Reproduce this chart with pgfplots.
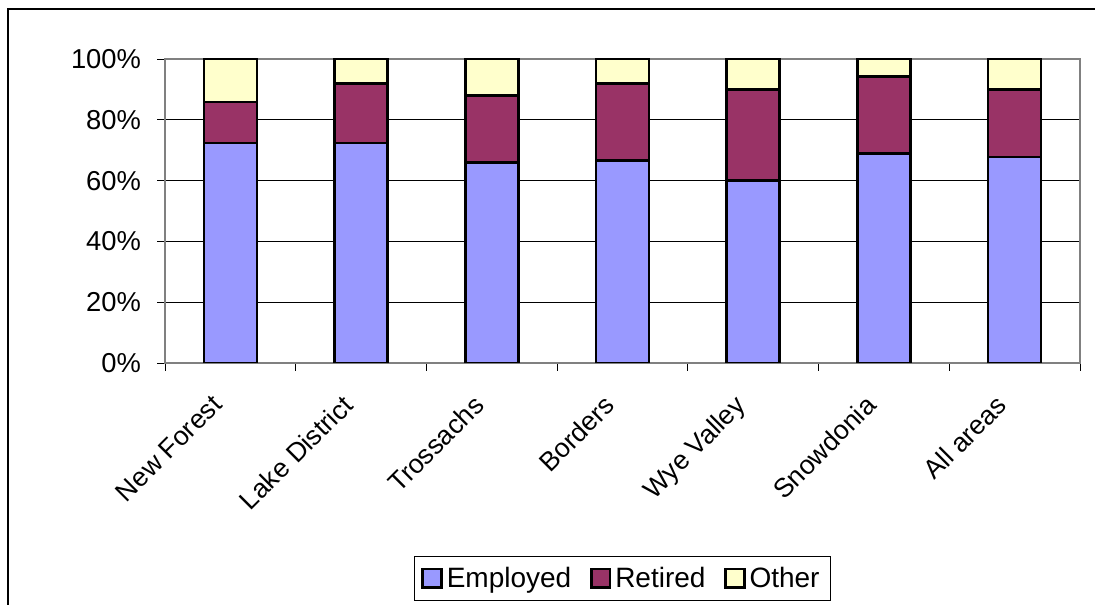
\documentclass[border=0pt]{standalone}
\usepackage{fontspec}
\setmainfont{Liberation Sans}
\usepackage{pgfplots}
\pgfplotsset{compat=1.18}
\definecolor{cEmp}{HTML}{9999FF}
\definecolor{cRet}{HTML}{993366}
\definecolor{cOth}{HTML}{FFFFCC}
\definecolor{axgray}{HTML}{808080}
\begin{document}
\begin{tikzpicture}
\useasboundingbox (0,0) rectangle (821.25pt,453.75pt);
\draw[line width=0.8pt] (6pt,-20pt) -- (6pt,447pt) -- (840pt,447pt);
\begin{axis}[
  at={(123.75pt,181.5pt)}, anchor=south west,
  scale only axis, width=686.25pt, height=228pt,
  ybar stacked, bar width=39.75pt,
  xmin=-0.5, xmax=6.5, ymin=0, ymax=100,
  axis line style={axgray, line width=1.5pt},
  ytick={0,20,...,100},
  yticklabel={\pgfmathprintnumber{\tick}\%},
  ymajorgrids, major grid style={black, line width=0.6pt},
  xtick={-0.5,0.5,...,6.5}, xticklabels={},
  extra x ticks={0,1,2,3,4,5,6},
  extra x tick labels={New Forest,Lake District,Trossachs,Borders,Wye Valley,Snowdonia,All areas},
  extra x tick style={major tick length=0pt},
  tick align=outside, major tick length=6pt,
  tick style={black, line width=0.6pt},
  xtick pos=bottom, ytick pos=left,
  /pgf/number format/assume math mode=true,
  yticklabel style={font=\fontsize{20.5}{24}\selectfont, xshift=-8.5pt},
  xticklabel style={font=\fontsize{20}{24}\selectfont, xshift=-15pt, yshift=-18pt, rotate=45, anchor=north east},
  legend style={at={(0.5,-0.635)}, anchor=north, legend columns=-1,
    draw=black, line width=0.6pt, font=\fontsize{21}{25}\selectfont,
    inner xsep=5pt, inner ysep=6pt,
    nodes={inner xsep=3pt},
    /tikz/every even column/.append style={column sep=11pt}},
  legend image code/.code={\draw[#1, line width=2pt] (0pt,-7pt) rectangle (14pt,7pt);},
  every axis plot/.append style={draw=black, line width=2pt},
]
\addplot[fill=cEmp] coordinates {(0,72.4) (1,72.4) (2,66.0) (3,66.5) (4,60.0) (5,68.9) (6,67.8)};
\addplot[fill=cRet] coordinates {(0,13.4) (1,19.6) (2,21.9) (3,25.5) (4,30.0) (5,25.3) (6,22.2)};
\addplot[fill=cOth] coordinates {(0,14.2) (1,8.0) (2,12.1) (3,8.0) (4,10.0) (5,5.8) (6,10.0)};
\legend{Employed,Retired,Other}
\end{axis}
\end{tikzpicture}
\end{document}
